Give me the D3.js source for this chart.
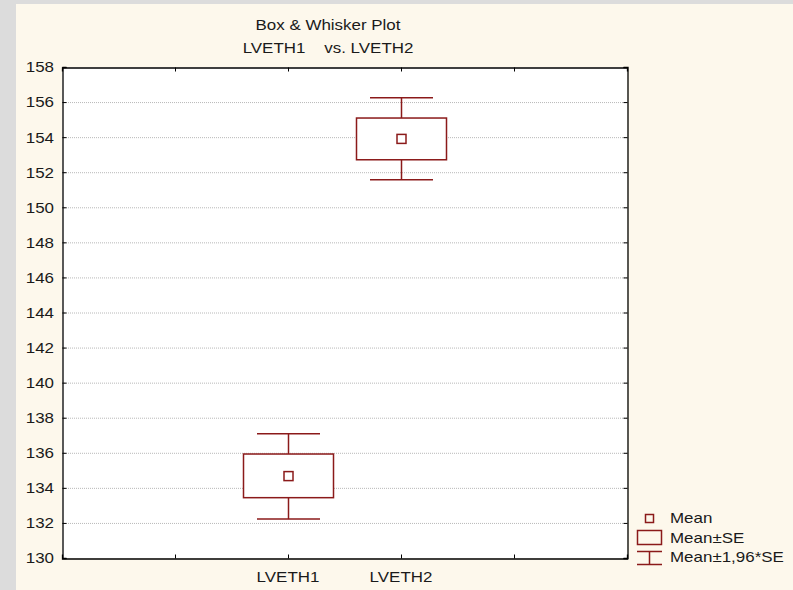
<!DOCTYPE html>
<html>
<head>
<meta charset="utf-8">
<script src="https://cdn.jsdelivr.net/npm/d3@7"></script>
<style>
  body { margin: 0; background: #dcdcdc; }
  svg { display: block; }
  text { font-family: "Liberation Sans", Arial, sans-serif; fill: #1a1a1a; font-size: 15px; }
</style>
</head>
<body>
<div id="chart"></div>
<script>
// values
var categories = ["LVETH1", "LVETH2"];
var means   = [134.67, 153.90];
var seLow   = [133.44, 152.71];
var seHigh  = [135.93, 155.09];
var ciLow   = [132.22, 151.57];
var ciHigh  = [137.09, 156.25];
var yTicks  = d3.range(130, 159, 2);
var legendLabels = ["Mean", "Mean\u00b1SE", "Mean\u00b11,96*SE"];

var W = 793, H = 590;
var plot = { left: 62, top: 67, right: 627, bottom: 558 };
var red = "#8b1a1a";
var sx = 1.13; // the original lettering is a little wider than Liberation Sans

var svg = d3.select("#chart").append("svg")
  .attr("width", W)
  .attr("height", H);

//helper: stretched text at x,y
function label(parent, x, y, str, anchor, dy) {
  var t = parent.append("g")
    .attr("transform", "translate(" + x + "," + y + ") scale(" + sx + ",1)")
    .append("text")
    .attr("text-anchor", anchor || "start")
    .text(str);
  if (dy) t.attr("dy", dy);
  return t;
}

// cream panel
svg.append("rect")
  .attr("x", 16).attr("y", 4)
  .attr("width", W - 16).attr("height", H - 4)
  .attr("fill", "#fdf8ec");

// x is a 0..5 slot scale, categories sit on slots 2 and 3
var x = d3.scaleLinear().domain([0, 5]).range([plot.left, plot.right]);
var y = d3.scaleLinear().domain([130, 158]).range([plot.bottom, plot.top]);

svg.append("rect")
  .attr("x", plot.left).attr("y", plot.top)
  .attr("width", plot.right - plot.left).attr("height", plot.bottom - plot.top)
  .attr("fill", "#ffffff");

//grid lines
svg.append("g").selectAll("line")
  .data(yTicks.filter(function (d) { return d > 130 && d < 158; }))
  .enter().append("line")
  .attr("x1", plot.left).attr("x2", plot.right)
  .attr("y1", function (d) { return y(d) + 0.5; })
  .attr("y2", function (d) { return y(d) + 0.5; })
  .attr("stroke", "#b8b8b8")
  .attr("stroke-width", 1)
  .attr("stroke-dasharray", "1,1");

// axes, ticks pointing inward
var axisL = svg.append("g").attr("transform", "translate(" + (plot.left + 0.5) + ",0)")
  .call(d3.axisRight(y).tickValues(yTicks).tickSize(4).tickFormat(""));
var axisR = svg.append("g").attr("transform", "translate(" + (plot.right + 0.5) + ",0)")
  .call(d3.axisLeft(y).tickValues(yTicks).tickSize(4).tickFormat(""));
var axisT = svg.append("g").attr("transform", "translate(0," + (plot.top + 0.5) + ")")
  .call(d3.axisBottom(x).tickValues([1, 2, 3, 4]).tickSize(4).tickFormat(""));
var axisB = svg.append("g").attr("transform", "translate(0," + (plot.bottom + 0.5) + ")")
  .call(d3.axisTop(x).tickValues([1, 2, 3, 4]).tickSize(4).tickFormat(""));
[axisL, axisR, axisT, axisB].forEach(function (a) {
  a.select(".domain").attr("stroke", "#000").attr("stroke-width", 1.3);
  a.selectAll(".tick line").attr("stroke", "#000");
});

// y tick labels
var yl = svg.append("g");
yTicks.forEach(function (d) {
  label(yl, 54, y(d), d, "end", "0.36em");
});

// x category labels
var xl = svg.append("g");
categories.forEach(function (c, i) {
  label(xl, x(i + 2), 582, c, "middle");
});

// titles (the original centres them a bit left of the plot middle)
var cx = 328;
label(svg, cx, 30, "Box & Whisker Plot", "middle");
label(svg, cx, 53, "LVETH1    vs. LVETH2", "middle").style("white-space", "pre");

// boxes
var boxHalf = 45, whiskHalf = 31.5, meanHalf = 4.5;
var g = svg.append("g").attr("stroke", red).attr("stroke-width", 1.5).attr("fill", "none");
categories.forEach(function (c, i) {
  var px = Math.round(x(i + 2)) + 0.5;
  // whisker stems
  g.append("line").attr("x1", px).attr("x2", px).attr("y1", y(ciHigh[i])).attr("y2", y(seHigh[i]));
  g.append("line").attr("x1", px).attr("x2", px).attr("y1", y(seLow[i])).attr("y2", y(ciLow[i]));
  // caps
  [ciHigh[i], ciLow[i]].forEach(function (v) {
    g.append("line").attr("x1", px - whiskHalf).attr("x2", px + whiskHalf)
      .attr("y1", y(v)).attr("y2", y(v));
  });
  g.append("rect")
    .attr("x", px - boxHalf).attr("y", y(seHigh[i]))
    .attr("width", boxHalf * 2).attr("height", y(seLow[i]) - y(seHigh[i]))
    .attr("fill", "#fff");
  g.append("rect")
    .attr("x", px - meanHalf).attr("y", y(means[i]) - meanHalf)
    .attr("width", meanHalf * 2).attr("height", meanHalf * 2)
    .attr("fill", "#fff");
});

// legend
var lg = svg.append("g");
var ls = lg.append("g").attr("stroke", red).attr("stroke-width", 1.5).attr("fill", "none");
ls.append("rect").attr("x", 645.5).attr("y", 514.5).attr("width", 8).attr("height", 8);
ls.append("rect").attr("x", 637.5).attr("y", 530.5).attr("width", 24).attr("height", 14);
ls.append("line").attr("x1", 637).attr("x2", 662).attr("y1", 551.5).attr("y2", 551.5);
ls.append("line").attr("x1", 637).attr("x2", 662).attr("y1", 564.5).attr("y2", 564.5);
ls.append("line").attr("x1", 649.5).attr("x2", 649.5).attr("y1", 551.5).attr("y2", 564.5);
legendLabels.forEach(function (d, i) {
  label(lg, 670, 523 + i * 19.5, d, "start");
});
</script>
</body>
</html>
